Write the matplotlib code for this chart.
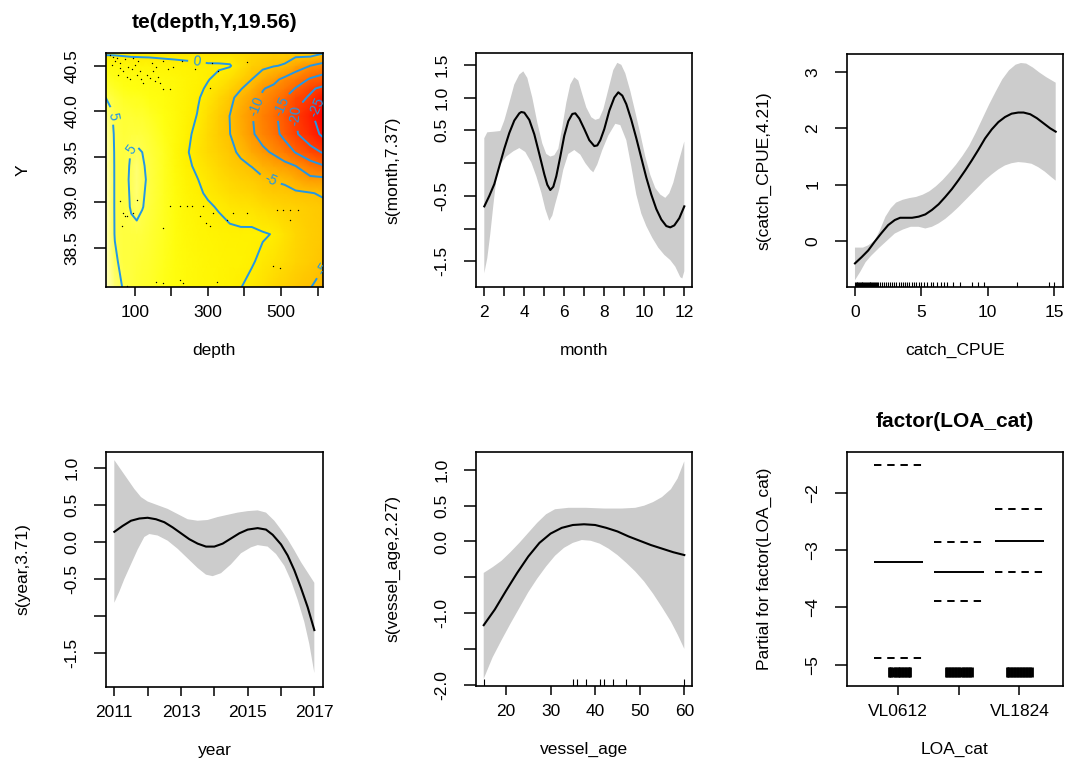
import numpy as np
import matplotlib
matplotlib.use('Agg')
import matplotlib.pyplot as plt
from matplotlib.colors import LinearSegmentedColormap, Normalize

plt.rcParams['font.family'] = ['Liberation Sans', 'DejaVu Sans']

# ---- te(depth, Y) surface ----
depth_grid = [20, 45, 70, 90, 105, 120, 140, 180, 210, 240, 270, 300, 330, 360, 390, 420,
              450, 480, 510, 540, 580, 615]
y_grid = [38.07, 38.35, 38.65, 38.95, 39.1, 39.25, 39.4, 39.55, 39.75, 39.95, 40.05, 40.15,
          40.25, 40.35, 40.5, 40.64]
te_z = [
    [6.2, 5.4, 4.9, 4.6, 4.4, 4.3, 4.1, 3.6, 3.0, 2.3, 1.9, 1.5, 1.0, 0.6, 0.05, -0.6,
     -1.5, -2.5, -3.2, -4.0, -4.9, -6.0],
    [6.2, 5.15, 4.7, 4.6, 4.5, 4.4, 4.2, 3.7, 3.0, 2.2, 1.8, 1.4, 1.1, 0.8, 0.6, 0.2,
     -0.5, -1.2, -2.0, -2.8, -3.8, -4.6],
    [6.2, 4.95, 4.6, 4.7, 4.7, 4.6, 4.4, 3.8, 3.0, 2.0, 1.5, 1.0, 0.8, 0.5, 0.4, 0.5,
     0.2, -0.1, -1.4, -2.5, -3.5, -4.0],
    [6.1, 4.93, 4.6, 5.1, 5.3, 5.05, 4.7, 3.9, 2.9, 1.6, 0.9, 0.3, -0.2, -0.8, -1.1, -1.4,
     -2.0, -2.6, -3.0, -3.2, -3.8, -4.2],
    [6.1, 4.93, 4.62, 5.15, 5.45, 5.12, 4.75, 3.9, 2.7, 1.25, 0.4, -0.3, -1.0, -1.7, -2.2,
     -2.6, -3.3, -3.9, -4.2, -4.5, -4.8, -5.4],
    [6.1, 4.93, 4.65, 5.2, 5.5, 5.2, 4.8, 3.9, 2.5, 0.9, 0.1, -0.8, -1.7, -2.6, -3.2, -3.8,
     -4.5, -5.2, -5.5, -7.0, -9.0, -9.0],
    [6.05, 4.93, 4.62, 5.15, 5.4, 5.12, 4.75, 3.85, 2.3, 0.5, -0.4, -1.5, -2.5, -3.5, -4.4,
     -5.1, -6.7, -7.8, -8.8, -10.0, -12.8, -14.7],
    [6.0, 4.92, 4.6, 5.05, 5.15, 5.0, 4.7, 3.8, 2.1, 0.3, -0.9, -2.1, -3.2, -4.3, -5.5, -7.5,
     -9.2, -10.5, -12.5, -15.2, -18.5, -20.3],
    [5.9, 4.88, 4.5, 4.7, 4.7, 4.6, 4.4, 3.6, 2.2, 0.6, -0.6, -2.2, -3.7, -4.95, -7.0, -9.5,
     -11.5, -13.5, -16.3, -19.5, -22.5, -26.0],
    [5.6, 4.8, 4.4, 4.4, 4.3, 4.2, 4.0, 3.3, 2.2, 0.9, -0.05, -1.8, -3.5, -5.05, -7.3, -9.8,
     -12.0, -14.0, -17.0, -20.0, -24.0, -28.0],
    [5.35, 4.65, 4.2, 4.15, 4.05, 3.95, 3.75, 3.1, 2.15, 1.05, 0.15, -1.3, -3.0, -4.6, -6.8,
     -9.1, -11.3, -13.2, -15.8, -19.3, -22.5, -27.0],
    [5.0, 4.5, 4.0, 3.9, 3.8, 3.7, 3.5, 2.9, 2.1, 1.2, 0.3, -0.8, -2.5, -4.2, -6.2, -8.3,
     -10.5, -12.5, -14.8, -18.5, -20.5, -25.5],
    [4.5, 4.05, 3.6, 3.45, 3.35, 3.25, 3.1, 2.55, 1.95, 1.2, 0.5, -0.3, -1.5, -3.0, -4.8,
     -6.6, -9.8, -10.8, -12.8, -15.2, -19.3, -21.0],
    [4.0, 3.6, 3.2, 3.0, 2.9, 2.8, 2.7, 2.2, 1.8, 1.2, 0.7, 0.1, -0.6, -1.8, -3.4, -5.0,
     -7.0, -9.0, -11.0, -12.5, -15.5, -17.0],
    [2.5, 2.2, 1.8, 1.6, 1.5, 1.4, 1.3, 1.0, 0.8, 0.6, 0.5, 0.3, 0.3, 0.2, -1.5, -3.3,
     -4.2, -4.8, -5.3, -8.0, -10.0, -11.5],
    [-0.5, -0.5, -0.6, -0.7, -0.7, -0.7, -0.7, -0.8, -0.85, -0.9, -1.0, -1.2, -1.3, -1.5,
     -2.0, -2.5, -3.0, -3.5, -3.5, -3.5, -3.0, -4.7],
]
te_levels = [-25, -20, -15, -10, -5, 0, 5]
obs_depth = [32, 41, 50, 46, 59, 73, 82, 91, 77, 87, 100, 105, 114, 118, 132, 141, 150, 155,
             164, 169, 178, 191, 205, 228, 264, 310, 328, 305, 196, 178, 406, 59, 68, 55, 123,
             96, 109, 36, 159, 146,
             59, 68, 73, 64, 77, 196, 223, 242, 255, 287, 278, 296, 305, 314, 351, 369, 406,
             488, 506, 524, 547, 524, 178, 96, 105,
             159, 178, 223, 231, 324, 479, 497, 77]
obs_y = [40.62, 40.60, 40.58, 40.55, 40.53, 40.57, 40.49, 40.46, 40.38, 40.35, 40.51, 40.40,
         40.44, 40.35, 40.40, 40.36, 40.44, 40.33, 40.38, 40.31, 40.55, 40.46, 40.49, 40.55,
         40.46, 40.53, 40.44, 40.26, 40.24, 40.24, 40.54, 40.47, 40.44, 40.40, 40.31, 40.58,
         40.55, 40.51, 40.49, 40.53,
         39.01, 38.88, 38.85, 38.74, 38.85, 38.96, 38.96, 38.96, 38.96, 38.96, 38.85, 38.77,
         38.74, 38.88, 38.81, 38.88, 38.88, 38.92, 38.92, 38.92, 38.92, 38.81, 38.72, 38.88,
         39.03,
         38.12, 38.11, 38.15, 38.11, 38.12, 38.30, 38.28, 38.08]

# ---- s(month) ----
month_x = [2.0, 2.25, 2.5, 2.75, 3.0, 3.25, 3.5, 3.75, 3.85, 4.0, 4.25, 4.5, 4.75, 5.0, 5.15,
           5.3, 5.45, 5.6, 5.8, 6.0, 6.2, 6.4, 6.55, 6.75, 7.0, 7.25, 7.5, 7.65, 7.8, 8.0,
           8.25, 8.5, 8.7, 8.9, 9.1, 9.35, 9.6, 9.85, 10.1, 10.35, 10.6, 10.85, 11.1, 11.3,
           11.5, 11.75, 12.0]
month_fit = [-0.66, -0.50, -0.32, -0.05, 0.22, 0.46, 0.65, 0.76, 0.78, 0.77, 0.66, 0.44,
             0.14, -0.17, -0.33, -0.41, -0.36, -0.20, 0.10, 0.42, 0.64, 0.75, 0.76, 0.68,
             0.52, 0.35, 0.26, 0.27, 0.35, 0.52, 0.80, 1.00, 1.08, 1.03, 0.90, 0.66, 0.38,
             0.08, -0.22, -0.48, -0.70, -0.86, -0.96, -0.98, -0.95, -0.84, -0.66]
month_up_x = [2.0, 2.15, 2.5, 2.8, 3.0, 3.25, 3.5, 3.75, 3.95, 4.15, 4.4, 4.65, 4.9, 5.1,
              5.3, 5.5, 5.7, 5.9, 6.1, 6.3, 6.5, 6.7, 6.9, 7.1, 7.35, 7.55, 7.75, 7.95, 8.2,
              8.45, 8.65, 8.85, 9.05, 9.3, 9.55, 9.8, 10.05, 10.3, 10.55, 10.8, 11.05, 11.25,
              11.45, 11.7, 12.0]
month_up = [0.38, 0.47, 0.48, 0.49, 0.65, 0.92, 1.20, 1.35, 1.40, 1.30, 1.00, 0.62, 0.30,
            0.14, 0.10, 0.12, 0.22, 0.55, 0.92, 1.20, 1.31, 1.26, 1.05, 0.85, 0.70, 0.66,
            0.68, 0.82, 1.12, 1.42, 1.53, 1.50, 1.37, 1.10, 0.78, 0.45, 0.10, -0.18, -0.38,
            -0.48, -0.53, -0.46, -0.30, 0.0, 0.33]
month_lo_x = [2.0, 2.15, 2.3, 2.45, 2.6, 2.8, 3.1, 3.45, 3.75, 4.05, 4.35, 4.6, 4.85, 5.05,
              5.25, 5.4, 5.55, 5.75, 5.95, 6.2, 6.5, 6.8, 7.05, 7.3, 7.45, 7.65, 7.9, 8.2,
              8.55, 8.8, 9.1, 9.35, 9.6, 9.85, 10.1, 10.4, 10.7, 11.0, 11.3, 11.55, 11.8,
              11.9, 12.0]
month_lo = [-1.68, -1.45, -1.08, -0.65, -0.25, -0.02, 0.10, 0.18, 0.23, 0.17, 0.01, -0.20,
            -0.45, -0.70, -0.88, -0.80, -0.62, -0.40, -0.10, 0.14, 0.20, 0.13, 0.0, -0.10,
            -0.14, -0.02, 0.20, 0.42, 0.60, 0.58, 0.35, -0.05, -0.48, -0.77, -0.96, -1.14,
            -1.29, -1.40, -1.48, -1.58, -1.74, -1.76, -1.65]

# ---- s(catch_CPUE) ----
cpue_x = [0, 0.5, 1.0, 1.5, 2.0, 2.5, 3.0, 3.4, 3.8, 4.3, 4.8, 5.3, 5.8, 6.3, 6.8, 7.3,
          7.8, 8.3, 8.8, 9.3, 9.8, 10.3, 10.8, 11.3, 11.8, 12.3, 12.7, 13.2, 13.7, 14.2,
          14.7, 15.12]
cpue_fit = [-0.40, -0.29, -0.17, -0.01, 0.14, 0.28, 0.37, 0.41, 0.41, 0.41, 0.43, 0.47,
            0.55, 0.65, 0.78, 0.92, 1.08, 1.25, 1.43, 1.62, 1.82, 1.98, 2.11, 2.20, 2.26,
            2.28, 2.28, 2.25, 2.18, 2.09, 2.00, 1.94]
cpue_up_x = [0, 0.6, 1.0, 1.5, 1.9, 2.3, 2.7, 3.1, 3.6, 4.1, 4.6, 5.1, 5.6, 6.1, 6.6, 7.1,
             7.6, 8.1, 8.6, 9.1, 9.6, 10.1, 10.6, 11.1, 11.6, 12.1, 12.5, 12.9, 13.4, 13.9,
             14.4, 15.12]
cpue_up = [-0.12, -0.12, -0.08, 0.01, 0.20, 0.43, 0.58, 0.68, 0.73, 0.76, 0.78, 0.82, 0.88,
           0.97, 1.08, 1.21, 1.35, 1.51, 1.69, 1.92, 2.17, 2.42, 2.65, 2.87, 3.03, 3.13,
           3.16, 3.15, 3.08, 2.99, 2.91, 2.81]
cpue_lo_x = [0, 0.4, 0.8, 1.2, 1.8, 2.4, 3.0, 3.6, 4.2, 4.8, 5.3, 5.8, 6.3, 6.8, 7.3, 7.8,
             8.3, 8.8, 9.3, 9.8, 10.3, 10.8, 11.3, 11.8, 12.3, 12.8, 13.3, 13.8, 14.3, 14.8,
             15.12]
cpue_lo = [-0.70, -0.55, -0.38, -0.27, -0.13, 0.0, 0.13, 0.20, 0.25, 0.25, 0.22, 0.25, 0.31,
           0.39, 0.49, 0.60, 0.72, 0.84, 0.96, 1.08, 1.18, 1.27, 1.34, 1.38, 1.40, 1.39,
           1.37, 1.31, 1.23, 1.13, 1.07]
cpue_rug = [0.02, 0.08, 0.12, 0.18, 0.25, 0.3, 0.36, 0.42, 0.5, 0.55, 0.62, 0.7, 0.75, 0.82,
            0.9, 0.96, 1.02, 1.1, 1.15, 1.22, 1.3, 1.38, 1.45, 1.52, 1.6, 1.68, 1.75, 1.85,
            2.05, 2.2, 2.35, 2.5, 2.62, 2.8, 2.95, 3.1, 3.3, 3.45, 3.6, 3.8, 3.95, 4.1, 4.3,
            4.45, 4.6, 4.8, 5.0, 5.2, 5.45, 5.7, 5.9, 6.2, 6.45, 6.7, 6.9, 7.4, 7.9, 8.8, 9.3,
            9.7, 12.2, 14.6, 15.0]

# ---- s(year) ----
year_x = [2011, 2011.25, 2011.5, 2011.75, 2012.0, 2012.25, 2012.5, 2012.75, 2013.0,
          2013.25, 2013.5, 2013.75, 2014.0, 2014.25, 2014.5, 2014.75, 2015.0, 2015.3,
          2015.55, 2015.75, 2016.0, 2016.2, 2016.4, 2016.6, 2016.8, 2017]
year_fit = [0.14, 0.22, 0.29, 0.32, 0.33, 0.31, 0.27, 0.20, 0.12, 0.04, -0.02, -0.06,
            -0.06, -0.02, 0.05, 0.12, 0.17, 0.19, 0.17, 0.10, -0.03, -0.18, -0.38, -0.62,
            -0.88, -1.19]
year_up_x = [2011, 2011.2, 2011.4, 2011.6, 2011.8, 2012.0, 2012.3, 2012.6, 2012.9, 2013.2,
             2013.5, 2013.8, 2014.1, 2014.4, 2014.7, 2015.0, 2015.3, 2015.55, 2015.8,
             2016.0, 2016.2, 2016.4, 2016.6, 2016.8, 2017]
year_up = [1.11, 0.98, 0.85, 0.72, 0.61, 0.55, 0.50, 0.45, 0.38, 0.31, 0.29, 0.30, 0.34,
           0.37, 0.40, 0.42, 0.43, 0.40, 0.29, 0.17, 0.04, -0.11, -0.27, -0.41, -0.55]
year_lo_x = [2011, 2011.15, 2011.3, 2011.5, 2011.7, 2011.9, 2012.05, 2012.3, 2012.6,
             2012.9, 2013.2, 2013.5, 2013.75, 2013.95, 2014.2, 2014.5, 2014.8, 2015.1,
             2015.3, 2015.6, 2015.85, 2016.1, 2016.3, 2016.5, 2016.7, 2016.85, 2017]
year_lo = [-0.82, -0.67, -0.50, -0.30, -0.10, 0.07, 0.11, 0.09, 0.02, -0.09, -0.22, -0.35,
           -0.44, -0.46, -0.42, -0.30, -0.15, -0.07, -0.04, -0.06, -0.16, -0.32, -0.52,
           -0.78, -1.08, -1.38, -1.77]

# ---- s(vessel_age) ----
age_x = [15, 17.5, 20, 22.5, 25, 27.5, 30, 32.5, 35, 37.5, 40, 42.5, 45, 47.5, 50, 52.5,
         55, 57.5, 60]
age_fit = [-1.17, -0.95, -0.69, -0.44, -0.21, -0.02, 0.11, 0.19, 0.23, 0.24, 0.23, 0.19,
           0.14, 0.07, 0.01, -0.05, -0.10, -0.15, -0.19]
age_up_x = [15, 17, 19, 21, 23, 25, 27, 29, 31, 34, 38, 42, 46, 49, 51, 53, 55, 57, 58.5, 60]
age_up = [-0.44, -0.36, -0.27, -0.15, -0.02, 0.12, 0.26, 0.38, 0.45, 0.47, 0.47, 0.46,
          0.46, 0.47, 0.50, 0.55, 0.62, 0.73, 0.88, 1.12]
age_lo_x = [15, 17, 19, 21, 23, 25, 27, 29, 31, 33, 35, 37, 39, 41, 43, 45, 47, 49, 51, 53,
            55, 57, 58.5, 60]
age_lo = [-1.92, -1.62, -1.38, -1.15, -0.93, -0.71, -0.52, -0.35, -0.20, -0.09, -0.02,
          0.02, 0.01, -0.03, -0.10, -0.19, -0.30, -0.42, -0.56, -0.73, -0.92, -1.12, -1.30,
          -1.50]
age_rug = [15, 35, 36, 38, 41, 42, 44, 47, 60]

# ---- factor(LOA_cat) ----
loa_labels = ['VL0612', '', 'VL1824']
loa_pos = [1, 2, 3]
loa_est = [-3.20, -3.38, -2.84]
loa_upper = [-1.52, -2.86, -2.29]
loa_lower = [-4.89, -3.88, -3.38]
loa_rug = [0.84, 0.86, 0.88, 0.92, 0.94, 0.96, 0.99, 1.01, 1.03, 1.06, 1.08, 1.11, 1.13,
           1.16, 1.18, 1.20,
           1.79, 1.81, 1.83, 1.86, 1.88, 1.91, 1.93, 1.96, 1.98, 2.01, 2.03, 2.06, 2.08,
           2.11, 2.13, 2.16, 2.18, 2.21,
           2.79, 2.81, 2.83, 2.86, 2.88, 2.91, 2.93, 2.96, 2.98, 3.01, 3.03, 3.06, 3.08,
           3.11, 3.13, 3.16, 3.18, 3.20]

W, H = 1068, 758
fig = plt.figure(figsize=(W / 100, H / 100), dpi=100)
FS = 12.5
SHADE = '#CCCCCC'


def panel(l, t, r, b):
    ax = fig.add_axes([l / W, 1 - b / H, (r - l) / W, (b - t) / H])
    for s in ax.spines.values():
        s.set_linewidth(1.2)
    ax.tick_params(axis='x', direction='out', length=6.7, width=1.1, labelsize=FS, pad=6)
    ax.tick_params(axis='y', direction='out', length=9, width=1.1, labelsize=FS, pad=10,
                   labelrotation=90)
    return ax


def finish(ax, xlabel, ylabel):
    pos = ax.get_position()
    w, h = pos.width * W, pos.height * H
    ax.set_xlabel(xlabel, fontsize=FS)
    ax.set_ylabel(ylabel, fontsize=FS)
    ax.xaxis.set_label_coords(0.5, -63 / h)
    ax.xaxis.label.set_va('center')
    ax.yaxis.set_label_coords(-83 / w, 0.5)
    ax.yaxis.label.set_va('center')
    for lbl in ax.get_yticklabels():
        lbl.set_va('center')


def smooth_panel(ax, xs, fit, ux, up, lx, lo):
    poly_x = list(ux) + list(lx)[::-1]
    poly_y = list(up) + list(lo)[::-1]
    ax.fill(poly_x, poly_y, color=SHADE, lw=0)
    ax.plot(xs, fit, color='black', lw=1.5)


# te(depth,Y)
ax1 = panel(105.7, 53, 323, 287)
heat = LinearSegmentedColormap.from_list('heat', [
    (0.0, '#FF0000'), (0.219, '#FF3A00'), (0.415, '#FF7000'), (0.596, '#FFA800'),
    (0.749, '#FFD800'), (0.833, '#FFF200'), (0.921, '#FFFF10'), (0.971, '#FFFF50'),
    (1.0, '#FFFFC0')])
norm = Normalize(vmin=-28, vmax=6.2)
ax1.pcolormesh(depth_grid, y_grid, np.array(te_z), shading='gouraud', cmap=heat, norm=norm)
cs = ax1.contour(depth_grid, y_grid, np.array(te_z), levels=te_levels, colors='#2297E6',
                 linewidths=1.4, negative_linestyles='solid')
ax1.clabel(cs, fmt='%d', fontsize=10, inline=True)
ax1.plot(obs_depth, obs_y, 'o', color='black', ms=1.0, mew=0)
ax1.set_xlim(20, 615)
ax1.set_ylim(38.07, 40.64)
ax1.set_xticks([100, 200, 300, 400, 500, 600])
ax1.set_xticklabels(['100', '', '300', '', '500', ''])
ax1.set_yticks([38.5, 39.0, 39.5, 40.0, 40.5])
ax1.set_yticklabels(['38.5', '39.0', '39.5', '40.0', '40.5'])
ax1.set_title('te(depth,Y,19.56)', fontsize=15, fontweight='bold', pad=18)
finish(ax1, 'depth', 'Y')

# s(month)
ax2 = panel(476, 53, 692, 287)
smooth_panel(ax2, month_x, month_fit, month_up_x, month_up, month_lo_x, month_lo)
ax2.set_xlim(1.585, 12.385)
ax2.set_ylim(-1.89, 1.68)
ax2.set_xticks(list(range(2, 13)))
ax2.set_xticklabels(['2', '', '4', '', '6', '', '8', '', '10', '', '12'])
ax2.set_yticks([-1.5, -1.0, -0.5, 0.0, 0.5, 1.0, 1.5])
ax2.set_yticklabels(['-1.5', '', '-0.5', '', '0.5', '1.0', '1.5'])
finish(ax2, 'month', 's(month,7.37)')

# s(catch_CPUE)
ax3 = panel(847, 54, 1063, 287)
smooth_panel(ax3, cpue_x, cpue_fit, cpue_up_x, cpue_up, cpue_lo_x, cpue_lo)
ax3.vlines(cpue_rug, 0, 0.022, color='black', lw=0.8, transform=ax3.get_xaxis_transform())
ax3.set_xlim(-0.60, 15.67)
ax3.set_ylim(-0.82, 3.32)
ax3.set_xticks([0, 5, 10, 15])
ax3.set_yticks([0, 1, 2, 3])
finish(ax3, 'catch_CPUE', 's(catch_CPUE,4.21)')

# s(year)
ax4 = panel(106, 452, 323, 687)
smooth_panel(ax4, year_x, year_fit, year_up_x, year_up, year_lo_x, year_lo)
ax4.set_xlim(2010.75, 2017.26)
ax4.set_ylim(-1.96, 1.22)
ax4.set_xticks(list(range(2011, 2018)))
ax4.set_xticklabels(['2011', '', '2013', '', '2015', '', '2017'])
ax4.set_yticks([-1.5, -1.0, -0.5, 0.0, 0.5, 1.0])
ax4.set_yticklabels(['-1.5', '', '-0.5', '0.0', '0.5', '1.0'])
finish(ax4, 'year', 's(year,3.71)')

# s(vessel_age)
ax5 = panel(476, 452, 692, 686)
smooth_panel(ax5, age_x, age_fit, age_up_x, age_up, age_lo_x, age_lo)
ax5.vlines(age_rug, 0, 0.03, color='black', lw=0.8, transform=ax5.get_xaxis_transform())
ax5.set_xlim(13.27, 61.73)
ax5.set_ylim(-2.02, 1.25)
ax5.set_xticks([20, 30, 40, 50, 60])
ax5.set_yticks([-2.0, -1.5, -1.0, -0.5, 0.0, 0.5, 1.0])
ax5.set_yticklabels(['-2.0', '', '-1.0', '', '0.0', '0.5', '1.0'])
finish(ax5, 'vessel_age', 's(vessel_age,2.27)')

# factor(LOA_cat)
ax6 = panel(847, 452, 1063, 686)
half = 0.41
x0 = [p - half for p in loa_pos]
x1 = [p + half for p in loa_pos]
ax6.hlines(loa_est, x0, x1, color='black', lw=1.4)
ax6.hlines(loa_upper, x0, x1, color='black', lw=1.4, linestyles=[(0, (3.8, 3.0))])
ax6.hlines(loa_lower, x0, x1, color='black', lw=1.4, linestyles=[(0, (3.8, 3.0))])
ax6.vlines(loa_rug, -5.21, -5.03, color='black', lw=2.0)
ax6.set_xlim(0.152, 3.72)
ax6.set_ylim(-5.37, -1.29)
ax6.set_xticks(loa_pos)
ax6.set_xticklabels(loa_labels)
ax6.set_yticks([-5, -4, -3, -2])
ax6.set_title('factor(LOA_cat)', fontsize=15, fontweight='bold', pad=18)
finish(ax6, 'LOA_cat', 'Partial for factor(LOA_cat)')

fig.savefig('out.png', dpi=100)
print('Saved out.png')
